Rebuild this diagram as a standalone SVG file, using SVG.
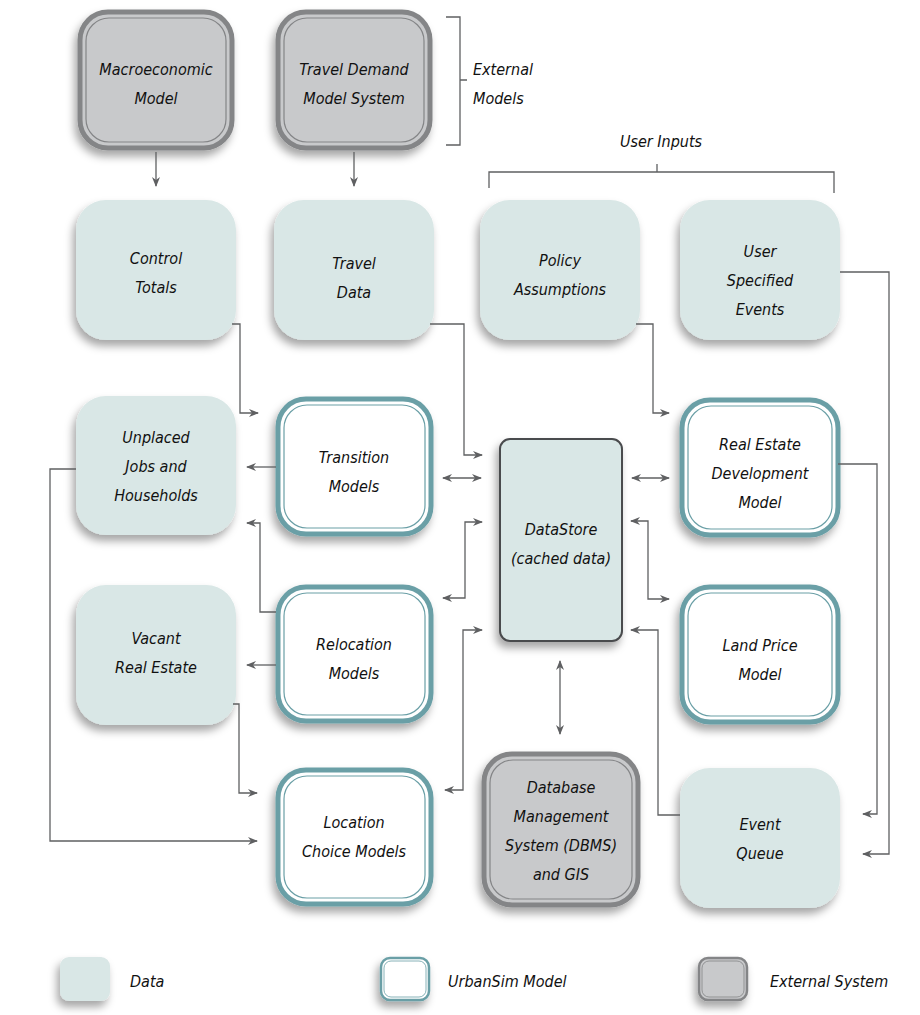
<svg xmlns="http://www.w3.org/2000/svg" width="920" height="1015" viewBox="0 0 920 1015">
<defs>
<filter id="sh" x="-30%" y="-30%" width="160%" height="170%">
<feDropShadow dx="-3" dy="6" stdDeviation="4" flood-color="#000" flood-opacity="0.35"/>
</filter>
<marker id="ah" viewBox="0 0 10 10" refX="9" refY="5" markerWidth="10" markerHeight="10" markerUnits="userSpaceOnUse" orient="auto-start-reverse">
<path d="M0,1 L10,5 L0,9 L3,5 z" fill="#5f6062"/>
</marker>
<style>
.data{fill:#d9e7e6;}
.model{fill:#fff;stroke:#6a9fa6;stroke-width:5;}
.inner-m{fill:none;stroke:#6a9fa6;stroke-width:1.2;}
.ext{fill:#c8c9cb;stroke:#848587;stroke-width:5;}
.inner-e{fill:none;stroke:#848587;stroke-width:1.2;}
.store{fill:#d9e7e6;stroke:#4a4b4d;stroke-width:2;}
text{font-family:"Liberation Sans Narrow","DejaVu Sans Condensed","Roboto Condensed","Liberation Sans",sans-serif;font-style:italic;font-size:16px;fill:#111;text-anchor:middle;}
.lab{text-anchor:start;}
.c{fill:none;stroke:#5f6062;stroke-width:1.3;}
.a{marker-end:url(#ah);}
.b{marker-start:url(#ah);marker-end:url(#ah);}
</style>
</defs>

<g id="macro"><rect class="ext" x="80" y="12" width="152" height="136" rx="28" filter="url(#sh)"/><rect class="inner-e" x="86" y="18" width="140" height="124" rx="23"/><text x="156" y="75">Macroeconomic</text><text x="156" y="104">Model</text></g>
<g id="tdms"><rect class="ext" x="278" y="12" width="152" height="136" rx="28" filter="url(#sh)"/><rect class="inner-e" x="284" y="18" width="140" height="124" rx="23"/><text x="354" y="75">Travel Demand</text><text x="354" y="104">Model System</text></g>

<g id="ext-bracket"><path class="c" d="M446,17 H460 V145 H446 M460,80 H467"/><text class="lab" x="473" y="75">External</text><text class="lab" x="473" y="104">Models</text></g>
<g id="user-bracket"><path class="c" d="M489,188 V172 H834 V193 M657,164 V172"/><text x="661" y="147">User Inputs</text></g>

<g id="control"><rect class="data" x="76" y="200" width="160" height="140" rx="30" filter="url(#sh)"/><text x="156" y="264">Control</text><text x="156" y="293">Totals</text></g>
<g id="travel"><rect class="data" x="274" y="200" width="160" height="140" rx="30" filter="url(#sh)"/><text x="354" y="269">Travel</text><text x="354" y="298">Data</text></g>
<g id="policy"><rect class="data" x="480" y="200" width="160" height="140" rx="30" filter="url(#sh)"/><text x="560" y="266">Policy</text><text x="560" y="295">Assumptions</text></g>
<g id="events"><rect class="data" x="680" y="200" width="160" height="140" rx="30" filter="url(#sh)"/><text x="760" y="257">User</text><text x="760" y="286">Specified</text><text x="760" y="315">Events</text></g>

<g id="unplaced"><rect class="data" x="76" y="396" width="160" height="139" rx="30" filter="url(#sh)"/><text x="156" y="443">Unplaced</text><text x="156" y="472">Jobs and</text><text x="156" y="501">Households</text></g>
<g id="transition"><rect class="model" x="278" y="399" width="153" height="135" rx="28" filter="url(#sh)"/><rect class="inner-m" x="284" y="405" width="141" height="123" rx="23"/><text x="354" y="463">Transition</text><text x="354" y="492">Models</text></g>
<g id="datastore"><rect class="store" x="500" y="439" width="122" height="202" rx="10" filter="url(#sh)"/><text x="561" y="535">DataStore</text><text x="561" y="564">(cached data)</text></g>
<g id="redm"><rect class="model" x="682" y="400" width="156" height="135" rx="28" filter="url(#sh)"/><rect class="inner-m" x="688" y="406" width="144" height="123" rx="23"/><text x="760" y="450">Real Estate</text><text x="760" y="479">Development</text><text x="760" y="508">Model</text></g>

<g id="vacant"><rect class="data" x="76" y="585" width="160" height="140" rx="30" filter="url(#sh)"/><text x="156" y="644">Vacant</text><text x="156" y="673">Real Estate</text></g>
<g id="relocation"><rect class="model" x="278" y="587" width="153" height="134" rx="28" filter="url(#sh)"/><rect class="inner-m" x="284" y="593" width="141" height="122" rx="23"/><text x="354" y="650">Relocation</text><text x="354" y="679">Models</text></g>
<g id="landprice"><rect class="model" x="682" y="587" width="156" height="135" rx="28" filter="url(#sh)"/><rect class="inner-m" x="688" y="593" width="144" height="123" rx="23"/><text x="760" y="651">Land Price</text><text x="760" y="680">Model</text></g>

<g id="location"><rect class="model" x="278" y="770" width="153" height="134" rx="28" filter="url(#sh)"/><rect class="inner-m" x="284" y="776" width="141" height="122" rx="23"/><text x="354" y="828">Location</text><text x="354" y="857">Choice Models</text></g>
<g id="dbms"><rect class="ext" x="484" y="754" width="154" height="151" rx="28" filter="url(#sh)"/><rect class="inner-e" x="490" y="760" width="142" height="139" rx="23"/><text x="561" y="793">Database</text><text x="561" y="822">Management</text><text x="561" y="851">System (DBMS)</text><text x="561" y="880">and GIS</text></g>
<g id="eventqueue"><rect class="data" x="680" y="768" width="160" height="140" rx="30" filter="url(#sh)"/><text x="760" y="830">Event</text><text x="760" y="859">Queue</text></g>

<g id="connectors">
<path class="c a" d="M156,152 V186"/>
<path class="c a" d="M354,152 V186"/>
<path class="c a" d="M232,324 H240 V413 H258"/>
<path class="c a" d="M430,324 H464 V455 H482"/>
<path class="c a" d="M636,324 H653 V413 H669"/>
<path class="c b" d="M443,478 H481"/>
<path class="c b" d="M632,478 H669"/>
<path class="c a" d="M276,467 H247"/>
<path class="c a" d="M276,612 H260 V523 H247"/>
<path class="c a" d="M276,665 H247"/>
<path class="c a" d="M233,704 H239 V793 H257"/>
<path class="c a" d="M76,469 H50 V841 H257"/>
<path class="c b" d="M443,598 H465 V522 H482"/>
<path class="c b" d="M445,790 H463 V630 H482"/>
<path class="c b" d="M631,521 H648 V599 H669"/>
<path class="c a" d="M680,815 H658 V630 H631"/>
<path class="c b" d="M560,661 V734"/>
<path class="c a" d="M840,272 H889 V854 H863"/>
<path class="c a" d="M838,464 H877 V814 H863"/>
</g>

<g id="legend">
<rect class="data" x="60" y="957" width="50" height="44" rx="9" filter="url(#sh)"/><text class="lab" x="130" y="987">Data</text>
<rect x="381" y="958" width="48" height="42" rx="9" fill="#fff" stroke="#6a9fa6" stroke-width="2.5" filter="url(#sh)"/><rect x="384" y="961" width="42" height="36" rx="7" fill="none" stroke="#6a9fa6" stroke-width="0.8"/><text class="lab" x="448" y="987">UrbanSim Model</text>
<rect x="699" y="958" width="48" height="42" rx="9" fill="#c8c9cb" stroke="#848587" stroke-width="2.5" filter="url(#sh)"/><rect x="702" y="961" width="42" height="36" rx="7" fill="none" stroke="#848587" stroke-width="0.8"/><text class="lab" x="770" y="987">External System</text>
</g>
</svg>
